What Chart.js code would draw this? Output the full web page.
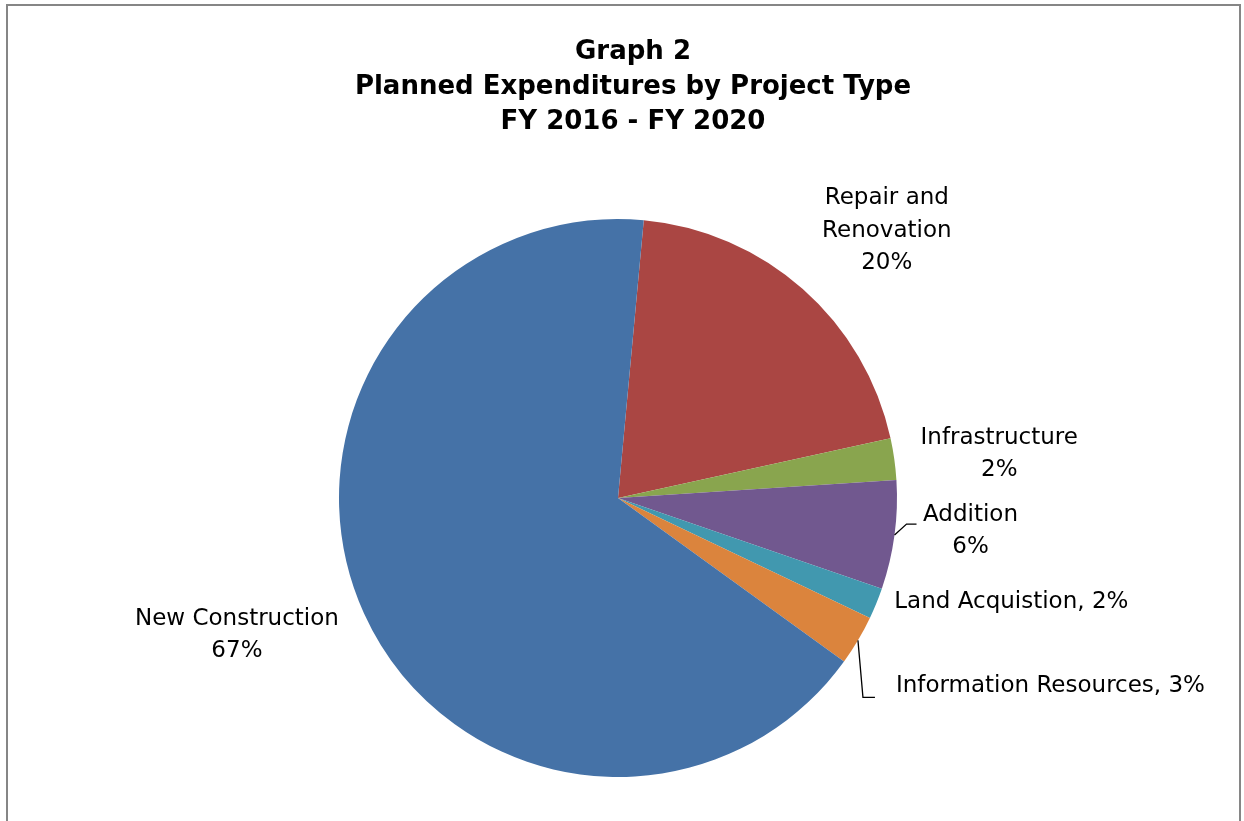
<!DOCTYPE html>
<html>
<head>
<meta charset="utf-8">
<script src="https://cdn.jsdelivr.net/npm/chart.js@4/dist/chart.umd.min.js"></script>
<style>
  body { margin: 0; background: #fff; }
  #wrap { width: 1244px; height: 821px; }
</style>
</head>
<body>
<div id="wrap"><canvas id="pieChart" width="1244" height="821"></canvas></div>
<script>
'use strict';
// data (slice angles -> percent)
var categories = ['Repair and Renovation', 'Infrastructure', 'Addition', 'Land Acquistion', 'Information Resources', 'New Construction'];
var shares = [20.1, 2.4, 6.3, 1.8, 2.9, 66.5];
var titleLines = ['Graph 2', 'Planned Expenditures by Project Type', 'FY 2016 - FY 2020'];
// how each label is written: name lines, and whether the % goes on the same line
var labelLines = [['Repair and', 'Renovation'], ['Infrastructure'], ['Addition'], ['Land Acquistion'], ['Information Resources'], ['New Construction']];
var inlinePct = [false, false, false, true, true, false];

// styles
var colors = ['#AA4643', '#89A54E', '#71588F', '#4198AF', '#DB843D', '#4572A7'];
var fontFam = '"DejaVu Sans", Verdana, sans-serif';
// label offsets from the slice's outer edge point (mid angle)
var labelOffset = [[84, -58], [105, -5], [76, -4], [18, -1], [38, 46], [-127, 22]];
var labelAlign = ['center', 'center', 'center', 'left', 'left', 'center'];
var leaders = { 2: [[12, -11], [22, -11]], 4: [[5, 57], [17, 57]] };

var total = shares.reduce(function (a, b) { return a + b; }, 0);

var framePlugin = {
  id: 'frame',
  beforeDraw: function (chart) {
    var ctx = chart.ctx;
    ctx.save();
    ctx.fillStyle = '#fff';
    ctx.fillRect(0, 0, chart.width, chart.height);
    ctx.strokeStyle = '#868686';
    ctx.lineWidth = 2;
    ctx.strokeRect(7, 5, 1233, 900);
    ctx.restore();
  },
  afterDraw: function (chart) {
    var ctx = chart.ctx;
    ctx.save();
    // title
    ctx.fillStyle = '#000';
    ctx.textAlign = 'center';
    ctx.textBaseline = 'middle';
    ctx.font = 'bold 26px ' + fontFam;
    titleLines.forEach(function (t, i) {
      ctx.fillText(t, 633, 52 + i * 35);
    });
    // data labels
    ctx.font = '23px ' + fontFam;
    var arcs = chart.getDatasetMeta(0).data;
    arcs.forEach(function (arc, i) {
      var p = arc.getProps(['x', 'y', 'startAngle', 'endAngle', 'outerRadius'], true);
      var mid = (p.startAngle + p.endAngle) / 2;
      var ex = p.x + Math.cos(mid) * p.outerRadius;
      var ey = p.y + Math.sin(mid) * p.outerRadius;
      var pct = Math.round(shares[i] / total * 100) + '%';
      var lines = labelLines[i].slice();
      if (inlinePct[i]) lines[lines.length - 1] += ', ' + pct; else lines.push(pct);
      var cx = ex + labelOffset[i][0];
      var cy = ey + labelOffset[i][1];
      var lh = 32.5;
      var y0 = cy - (lines.length - 1) * lh / 2;
      ctx.textAlign = labelAlign[i];
      lines.forEach(function (l, k) { ctx.fillText(l, cx, y0 + k * lh); });
      if (leaders[i]) {
        ctx.strokeStyle = '#000';
        ctx.lineWidth = 1.3;
        ctx.beginPath();
        ctx.moveTo(ex, ey);
        leaders[i].forEach(function (pt) { ctx.lineTo(ex + pt[0], ey + pt[1]); });
        ctx.stroke();
      }
    });
    ctx.restore();
  }
};

function makeChart() {
  var ctx = document.getElementById('pieChart');
  return new Chart(ctx, {
    type: 'pie',
    data: {
      labels: categories,
      datasets: [{
        data: shares,
        backgroundColor: colors,
        borderWidth: 0
      }]
    },
    options: {
      responsive: false,
      animation: false,
      rotation: 5.3,
      layout: { padding: { top: 219, bottom: 44, left: 339, right: 347 } },
      plugins: {
        legend: { display: false },
        title: { display: false },
        tooltip: { enabled: false }
      }
    },
    plugins: [framePlugin]
  });
}
makeChart();
</script>
</body>
</html>
